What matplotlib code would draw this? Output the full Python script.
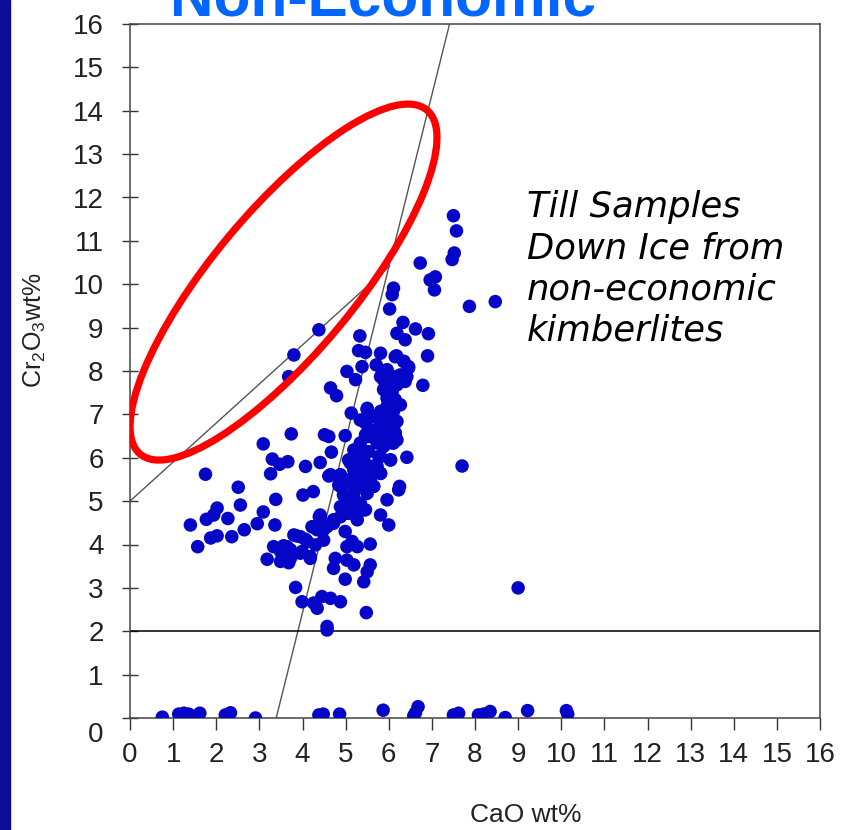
import numpy as np
import matplotlib
matplotlib.use('Agg')
import matplotlib.pyplot as plt
from matplotlib.patches import Ellipse, Rectangle

plt.rcParams['font.family'] = ['Liberation Sans', 'DejaVu Sans']
plt.rcParams['mathtext.default'] = 'regular'

# garnet analyses, main cloud: CaO wt% vs Cr2O3 wt%
cao_main = [3.74, 4.51, 4.61, 3.09, 4.67, 3.30, 3.47, 3.66, 4.07, 4.41, 1.75, 3.26, 4.65, 2.51, 4.01,
            4.25, 3.38, 2.56, 2.02, 1.94, 1.77, 2.27, 3.09, 1.40, 2.95, 3.36, 2.65, 1.87, 2.02, 2.36,
            1.57, 3.86, 4.07, 4.39, 4.26, 4.49, 3.33, 3.56, 3.72, 3.18, 3.49, 3.68, 3.99, 4.18,
            4.61, 4.84, 5.03, 5.27, 5.50, 5.65, 4.95, 5.15, 5.34, 5.46, 4.88, 5.07, 5.27, 4.72, 4.57,
            4.41, 5.81, 5.96, 6.00, 6.23, 4.41, 4.22, 3.95, 3.80, 4.11, 4.30, 4.49, 3.64, 3.49, 3.72,
            3.95, 4.18, 4.99, 5.15, 5.03, 5.27, 5.57, 4.76, 4.72, 5.03, 5.19, 5.57, 5.50, 5.42, 4.99,
            3.84, 3.99, 4.26, 4.34, 4.45, 4.65, 4.88, 5.48, 4.57, 4.57,
            6.02, 6.33, 6.62, 6.92, 6.19, 6.38, 5.33, 5.30, 5.46, 5.81, 6.18, 6.35, 6.46, 6.90, 5.71,
            5.38, 5.03, 5.23, 5.96, 6.27, 6.38, 5.88, 6.19, 6.79, 4.65, 4.79, 5.88, 5.96, 6.08, 6.27,
            6.04, 5.50, 5.13, 5.42, 5.61, 5.81, 5.96, 5.73, 5.96, 6.15, 6.15, 5.84, 6.11, 5.57, 4.99,
            5.46, 5.19, 5.42, 5.77, 6.04, 5.34, 5.07, 5.65, 5.19, 5.50, 5.81, 6.42, 4.88, 5.27, 5.57,
            4.95, 6.25,
            7.50, 7.57, 7.52, 7.47, 6.73, 6.96, 7.08, 7.06, 6.11, 6.08, 7.87, 8.47,
            7.70, 9.00, 4.38, 3.80, 3.68,
            6.15, 6.35, 6.46, 6.42, 6.27, 6.11, 5.96, 5.81, 5.92, 6.04, 6.15, 5.96, 5.81, 6.11, 5.88,
            6.04, 6.19, 6.15, 5.96, 5.81, 5.65, 5.46, 5.50, 5.34, 5.50, 5.34, 5.53, 5.42, 5.23, 5.11,
            5.23, 5.42, 5.61, 5.81, 5.73, 5.88, 6.08, 6.19, 6.04, 5.73, 5.81, 5.57, 5.34, 5.11, 4.88,
            4.99, 5.19, 5.34, 5.50, 5.65, 5.34, 5.15, 5.03, 5.27, 5.42, 4.88, 4.72, 4.41, 4.57, 4.34]
cr_main = [6.55, 6.53, 6.49, 6.32, 6.13, 5.97, 5.85, 5.91, 5.80, 5.89, 5.62, 5.63, 5.61, 5.32, 5.14,
           5.22, 5.04, 4.91, 4.84, 4.68, 4.58, 4.60, 4.75, 4.45, 4.48, 4.45, 4.34, 4.15, 4.20, 4.18,
           3.95, 4.20, 4.12, 4.64, 4.40, 4.34, 3.95, 3.97, 3.88, 3.66, 3.61, 3.58, 3.84, 3.72,
           5.58, 5.37, 5.49, 5.57, 5.46, 5.34, 5.14, 5.03, 4.95, 4.80, 4.87, 4.72, 4.57, 4.57, 4.45,
           4.68, 4.68, 5.03, 4.45, 5.26, 4.34, 4.41, 4.18, 4.22, 4.07, 3.99, 4.10, 3.95, 3.84, 3.68,
           3.80, 3.68, 4.30, 4.07, 3.95, 3.95, 4.01, 3.68, 3.45, 3.64, 3.53, 3.53, 3.37, 3.14, 3.20,
           3.01, 2.68, 2.65, 2.53, 2.80, 2.76, 2.68, 2.43, 2.11, 2.03,
           9.43, 9.12, 8.97, 8.86, 8.87, 8.72, 8.81, 8.47, 8.43, 8.41, 8.35, 8.22, 8.10, 8.35, 8.14,
           8.10, 7.99, 7.80, 7.99, 7.91, 7.76, 7.80, 7.68, 7.67, 7.61, 7.43, 7.57, 7.37, 7.53, 7.22,
           7.18, 7.14, 7.03, 6.87, 6.95, 6.84, 6.99, 6.64, 6.57, 6.80, 6.57, 6.41, 6.34, 6.49, 6.51,
           6.53, 6.18, 6.11, 6.03, 5.95, 5.88, 5.95, 5.80, 5.72, 5.64, 5.64, 6.01, 5.61, 5.49, 5.45,
           5.37, 5.34,
           11.58, 11.23, 10.72, 10.57, 10.49, 10.10, 10.17, 9.87, 9.91, 9.76, 9.49, 9.60,
           5.81, 3.00, 8.95, 8.37, 7.87,
           8.33, 8.22, 8.07, 7.87, 7.76, 7.87, 8.03, 7.87, 7.64, 7.49, 7.34, 7.18, 7.07, 7.07, 6.87,
           6.76, 6.84, 6.57, 6.49, 6.57, 6.64, 6.80, 7.11, 6.87, 6.49, 6.34, 6.14, 5.95, 6.03, 5.88,
           5.64, 5.80, 5.80, 6.03, 6.34, 6.26, 6.34, 6.41, 5.95, 5.80, 5.64, 5.49, 5.45, 5.45, 5.34,
           5.11, 5.18, 5.34, 5.18, 5.34, 4.95, 4.87, 4.72, 4.72, 4.80, 4.64, 4.49, 4.64, 4.41, 4.34]

# analyses with almost no Cr2O3, lying along the x axis
cao_low = [0.75, 1.13, 1.25, 1.36, 1.44, 1.54, 1.62, 1.33, 2.21, 2.33, 2.91, 4.38, 4.48, 4.86,
           5.87, 6.68, 6.62, 6.58, 7.50, 7.62, 8.08, 8.20, 8.35, 8.70, 9.22, 10.12, 10.15]
cr_low = [0.02, 0.09, 0.11, 0.09, 0.02, 0.0, 0.11, 0.05, 0.07, 0.12, 0.0, 0.07, 0.09, 0.09,
          0.18, 0.26, 0.12, 0.05, 0.07, 0.11, 0.07, 0.09, 0.15, 0.01, 0.17, 0.17, 0.09]

# guide lines
g10_x = [3.39, 7.41]      # lherzolite trend line
g10_y = [0.0, 16.0]
g9_x = [0.0, 6.02]
g9_y = [5.0, 10.42]
cr_cut = 2.0

ticks = list(range(0, 17))

fig = plt.figure(figsize=(8.43, 8.30), dpi=100)
fig.patches.append(Rectangle((0, 0), 10 / 843, 1, transform=fig.transFigure,
                             color='#0c0c96', zorder=0))
ax = fig.add_axes([130 / 843, 112 / 830, 690 / 843, 694 / 830])

ax.plot(g10_x, g10_y, color='#555555', lw=1.0, zorder=2)
ax.plot(g9_x, g9_y, color='#555555', lw=1.0, zorder=2)
ax.axhline(cr_cut, color='black', lw=1.1, zorder=2)

ax.scatter(cao_main, cr_main, s=95, color='#0606c8', edgecolors='none', zorder=3)
ax.scatter(cao_low, cr_low, s=95, color='#0606c8', edgecolors='none', zorder=3)

ax.add_patch(Ellipse((3.56, 10.05), 10.35, 3.3, angle=50, fill=False,
                     edgecolor='#ff0000', lw=5.2, zorder=4))

ax.set_xlim(0, 16)
ax.set_ylim(0, 16)
ax.set_xticks(ticks)
ax.set_yticks(ticks, labels=[''] + [str(t) for t in ticks[1:]])
ax.tick_params(axis='x', direction='out', length=8.5, width=1, pad=9, labelsize=20,
               colors='#333333', labelcolor='#222222')
ax.tick_params(axis='y', direction='inout', length=12, width=1, pad=13, labelsize=20,
               colors='#333333', labelcolor='#222222')
for sp in ax.spines.values():
    sp.set_color('#444444')
    sp.set_linewidth(1.1)

# the y "0" label sits a little below its tick
ax.annotate('0', xy=(0, 0), xycoords=('axes fraction', 'data'), xytext=(-27, -17),
            textcoords='offset pixels', ha='right', va='center', fontsize=20, color='#222222')

fig.text(526 / 843, 1 - 815 / 830, 'CaO wt%', ha='center', va='center', fontsize=19,
         color='#222222')
fig.text(35 / 843, 1 - 330 / 830, 'Cr$_2$O$_3$wt%', ha='center', va='center', rotation=90,
         fontsize=18, color='#222222')

fig.text(170 / 843, 1 - 15 / 830, 'Non-Economic', ha='left', va='baseline', fontsize=43.5,
         fontweight='bold', color='#0066ff')

fig.text(527 / 843, 1 - 190 / 830, 'Till Samples\nDown Ice from\nnon-economic\nkimberlites',
         ha='left', va='top', fontsize=25.5, style='italic', family='DejaVu Sans',
         linespacing=1.27, color='black')

fig.savefig('out.png', dpi=100)
